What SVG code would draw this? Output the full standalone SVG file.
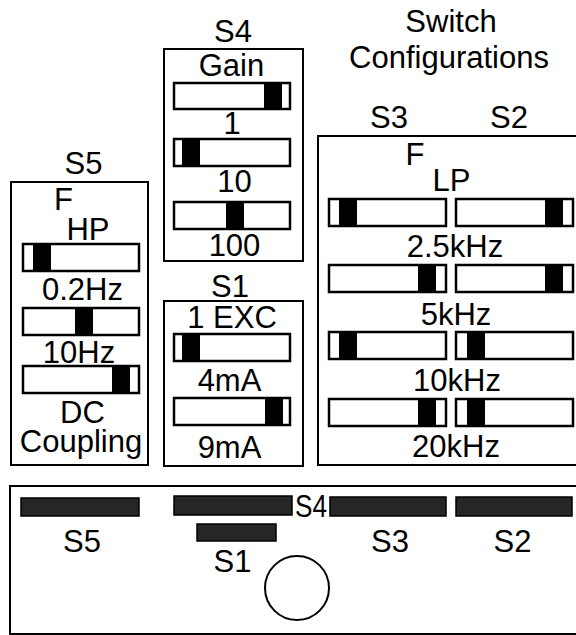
<svg xmlns="http://www.w3.org/2000/svg" width="576" height="635" viewBox="0 0 576 635">
<defs>
<style>
text{font-family:"Liberation Sans",Arial,sans-serif;font-size:31px;fill:#000;text-anchor:middle}
.box{fill:none;stroke:#000;stroke-width:2}
.sw{fill:#fff;stroke:#000;stroke-width:2.5}
.knob{fill:#000}
.bar{fill:#262626;stroke:#000;stroke-width:1.5}
</style>
</defs>
<rect width="576" height="635" fill="#fff"/>
<g id="title">
<text x="451" y="32">Switch</text>
<text x="449" y="68">Configurations</text>
</g>
<g id="S5">
<text x="83.5" y="174">S5</text>
<rect class="box" x="11" y="182" width="137" height="283"/>
<text x="63.5" y="210">F</text>
<text x="88" y="240">HP</text>
<rect class="sw" x="23" y="244" width="116" height="27"/><rect class="knob" x="33" y="245" width="18" height="25"/>
<text x="82.5" y="300">0.2Hz</text>
<rect class="sw" x="23" y="308" width="116" height="27"/><rect class="knob" x="75" y="309" width="18" height="25"/>
<text x="79" y="363">10Hz</text>
<rect class="sw" x="23" y="366" width="116" height="27"/><rect class="knob" x="112" y="367" width="18" height="25"/>
<text x="82.5" y="423">DC</text>
<text x="81" y="452">Coupling</text>
</g>
<g id="S4">
<text x="233" y="42">S4</text>
<rect class="box" x="164" y="49" width="139" height="212"/>
<text x="231.5" y="76">Gain</text>
<rect class="sw" x="174" y="83" width="116" height="26"/><rect class="knob" x="264" y="84" width="18" height="24"/>
<text x="232" y="134">1</text>
<rect class="sw" x="174" y="139" width="116" height="27"/><rect class="knob" x="182" y="140" width="18" height="25"/>
<text x="234.5" y="192">10</text>
<rect class="sw" x="174" y="202" width="116" height="27"/><rect class="knob" x="226" y="203" width="18" height="25"/>
<text x="234.5" y="256">100</text>
</g>
<g id="S1">
<text x="230" y="297">S1</text>
<rect class="box" x="164" y="301" width="139" height="165"/>
<text x="232" y="328">1 EXC</text>
<rect class="sw" x="174" y="334" width="116" height="27"/><rect class="knob" x="182" y="335" width="18" height="25"/>
<text x="229.5" y="391">4mA</text>
<rect class="sw" x="174" y="398" width="116" height="27"/><rect class="knob" x="265" y="399" width="18" height="25"/>
<text x="229.5" y="458">9mA</text>
</g>
<g id="S3S2">
<text x="389" y="128">S3</text>
<text x="509" y="128">S2</text>
<rect class="box" x="318" y="136" width="262" height="329"/>
<text x="415" y="165">F</text>
<text x="451.5" y="191">LP</text>
<rect class="sw" x="329" y="199" width="117" height="27"/><rect class="knob" x="339" y="200" width="18" height="25"/>
<rect class="sw" x="456" y="199" width="117" height="27"/><rect class="knob" x="545" y="200" width="18" height="25"/>
<text x="455" y="257">2.5kHz</text>
<rect class="sw" x="329" y="265" width="117" height="27"/><rect class="knob" x="418" y="266" width="18" height="25"/>
<rect class="sw" x="456" y="265" width="117" height="27"/><rect class="knob" x="545" y="266" width="18" height="25"/>
<text x="456" y="325">5kHz</text>
<rect class="sw" x="329" y="332" width="117" height="27"/><rect class="knob" x="339" y="333" width="18" height="25"/>
<rect class="sw" x="456" y="332" width="117" height="27"/><rect class="knob" x="467" y="333" width="18" height="25"/>
<text x="457" y="391">10kHz</text>
<rect class="sw" x="329" y="399" width="117" height="27"/><rect class="knob" x="418" y="400" width="18" height="25"/>
<rect class="sw" x="456" y="399" width="117" height="27"/><rect class="knob" x="467" y="400" width="18" height="25"/>
<text x="456" y="457">20kHz</text>
</g>
<g id="board">
<rect class="box" x="10" y="486" width="570" height="148"/>
<rect class="bar" x="21" y="498" width="118" height="18"/>
<rect class="bar" x="174" y="496" width="118" height="19"/>
<rect class="bar" x="330" y="497" width="116" height="19"/>
<rect class="bar" x="456" y="497" width="116" height="19"/>
<rect class="bar" x="197" y="524" width="79" height="17"/>
<text x="82" y="552">S5</text>
<text x="295" y="517" style="text-anchor:start" textLength="32" lengthAdjust="spacingAndGlyphs">S4</text>
<text x="390" y="552">S3</text>
<text x="512.5" y="552">S2</text>
<text x="232.5" y="572">S1</text>
<circle cx="297" cy="588" r="32" fill="none" stroke="#000" stroke-width="2"/>
</g>
</svg>
